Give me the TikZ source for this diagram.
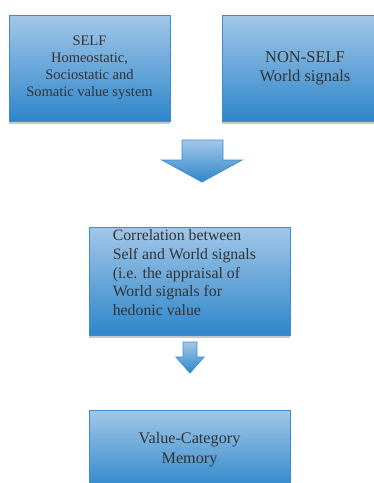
\documentclass[tikz,border=0pt]{standalone}
\usepackage{fontspec}
\setmainfont{Liberation Serif}
\usetikzlibrary{shadows}
\definecolor{boxtop}{HTML}{A2C7E8}
\definecolor{boxmid}{HTML}{74AEDF}
\definecolor{boxbot}{HTML}{2E86CA}
\definecolor{boxline}{HTML}{3C8CD2}
\definecolor{inktext}{HTML}{333333}
\begin{document}
\begin{tikzpicture}[x=1pt, y=-1pt,
  valuebox/.style={rectangle, draw=boxline, line width=0.8pt, top color=boxtop,
    middle color=boxmid, bottom color=boxbot, text=inktext, align=center,
    inner sep=0pt,
    drop shadow={shadow xshift=0pt, shadow yshift=-3pt, fill=black!22, opacity=1}},
  flowarrow/.style={draw=boxline, line width=0.8pt, top color=boxtop,
    middle color=boxmid, bottom color=boxbot}]

\useasboundingbox (0,0) rectangle (374,483);
\clip (0,0) rectangle (374,483);

% top row
\node[valuebox, minimum width=161pt, minimum height=106pt,
  font=\fontsize{14.5}{17}\selectfont] (self) at (89.5,68)
  {SELF\\Homeostatic,\\Sociostatic and\\Somatic value system};
\node[valuebox, minimum width=166pt, minimum height=106pt,
  font=\fontsize{16.5}{19}\selectfont] (world) at (305,68)
  {\raisebox{-4pt}{\begin{tabular}{@{}c@{}}NON-SELF\\World signals\end{tabular}}};

% big arrow
\path[flowarrow] (182,140) -- (223,140) -- (223,160) -- (242,160) -- (202,182)
  -- (162,160) -- (182,160) -- cycle;

% correlation box
\node[valuebox, minimum width=201pt, minimum height=108pt] (corr) at (189.5,281) {};
\node[anchor=north west, align=left, inner sep=0pt, text=inktext,
  font=\fontsize{15.8}{18.7}\selectfont] (corrtext) at ([xshift=24pt,yshift=-3pt]corr.north west)
  {Correlation between\\Self and World signals\\(i.e. the appraisal of\\World signals for\\hedonic value};

% small arrow
\path[flowarrow] (183,342) -- (197,342) -- (197,357) -- (204,357) -- (190,373)
  -- (176,357) -- (183,357) -- cycle;

% memory box
\node[valuebox, minimum width=201pt, minimum height=80pt,
  font=\fontsize{16.2}{20}\selectfont] (memory) at (189.5,450)
  {Value-Category\\Memory};

\end{tikzpicture}
\end{document}
